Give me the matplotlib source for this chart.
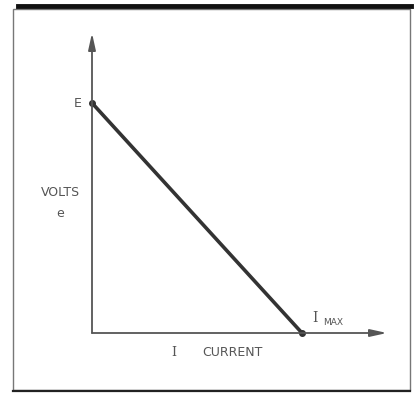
import matplotlib
matplotlib.use("Agg")
import matplotlib.pyplot as plt
from matplotlib.patches import Rectangle
from matplotlib.lines import Line2D

# load line: volts fall from E at zero current to zero at I max
current = [0.0, 1.0]
volts = [1.0, 0.0]
point_labels = ["E", "I"]

W, H = 415, 394
fig = plt.figure(figsize=(W / 100, H / 100), dpi=100)
fig.patch.set_facecolor("white")

# outer frame of the printed figure
fig.add_artist(Rectangle((13 / W, 1 - 390 / H), (410 - 13) / W, (390 - 9) / H,
                         transform=fig.transFigure, fill=False, ec="#777777", lw=1.0))
fig.add_artist(Line2D([18 / W, 411 / W], [1 - 6 / H, 1 - 6 / H],
                      transform=fig.transFigure, color="#111111", lw=3.5))
fig.add_artist(Line2D([13 / W, 410 / W], [1 - 391 / H, 1 - 391 / H],
                      transform=fig.transFigure, color="#222222", lw=1.6))

ax = fig.add_axes([92 / W, 1 - 333 / H, 295 / W, 300 / H])
ax.set_xlim(0, 295 / 210)
ax.set_ylim(0, 300 / 230)
ax.axis("off")

grey = "#555555"
# axes with arrow heads
for end in [(1, 0), (0, 1)]:
    ax.annotate("", xy=end, xytext=(0, 0), xycoords="axes fraction",
                arrowprops=dict(arrowstyle="-|>,head_length=1.0,head_width=0.22",
                                color=grey, lw=1.3, shrinkA=0, shrinkB=0))

ax.plot(current, volts, color="#333333", lw=2.6, solid_capstyle="round",
        marker="o", ms=4, clip_on=False)

fs = 9
ax.text(-0.07, volts[0], point_labels[0], color=grey, fontsize=fs, ha="center", va="center")
ax.text(-0.15, 0.613, "VOLTS", color=grey, fontsize=fs, ha="center", va="center")
ax.text(-0.15, 0.52, "e", color=grey, fontsize=fs, ha="center", va="center")
ax.text(0.39, -0.083, "I", color=grey, fontsize=fs, ha="center", va="center",
        family="DejaVu Serif")
ax.text(0.67, -0.083, "CURRENT", color=grey, fontsize=fs, ha="center", va="center")
ax.text(current[1] + 0.063, 0.065, point_labels[1], color=grey, fontsize=fs + 1,
        ha="center", va="center", family="DejaVu Serif")
ax.text(current[1] + 0.15, 0.045, "MAX", color=grey, fontsize=6.5, ha="center", va="center")

fig.savefig("out.png", dpi=100)
